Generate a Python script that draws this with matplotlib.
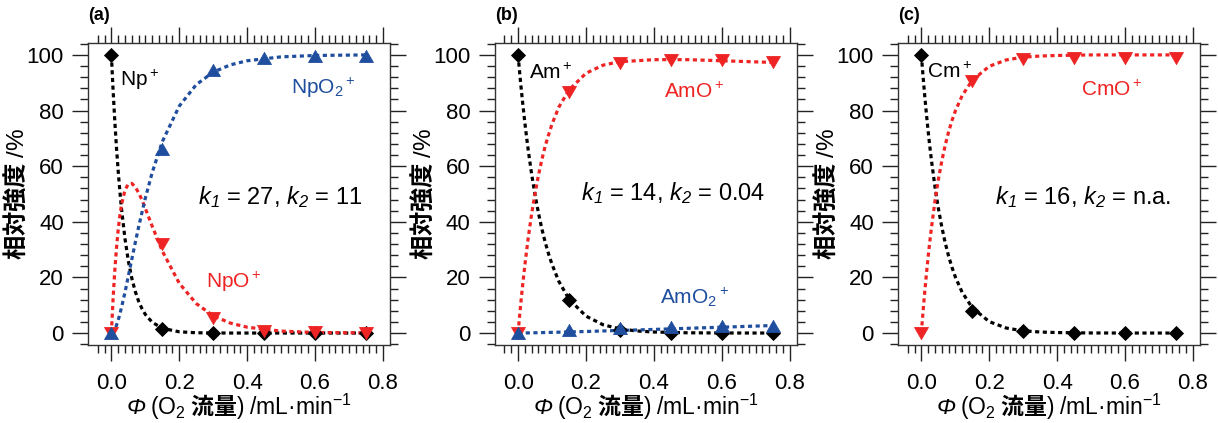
import numpy as np
import matplotlib
matplotlib.use("Agg")
import matplotlib.pyplot as plt
from matplotlib.ticker import FixedLocator, MultipleLocator, FormatStrFormatter

plt.rcParams['font.family'] = ['Liberation Sans', 'Noto Sans CJK JP']
plt.rcParams['mathtext.fontset'] = 'custom'
plt.rcParams['mathtext.rm'] = 'Liberation Sans'
plt.rcParams['mathtext.it'] = 'Liberation Sans:italic'
plt.rcParams['mathtext.cal'] = 'Liberation Sans:italic'
plt.rcParams['mathtext.bf'] = 'Liberation Sans:bold'

BLACK = '#000000'
RED = '#ee2424'
BLUE = '#1f4e9e'

# measured points
flow = [0.0, 0.15, 0.30, 0.45, 0.60, 0.75]

np_ion = [100, 1.5, 0.0, 0.0, 0.0, 0.0]
npo_ion = [0.0, 32.0, 5.5, 0.8, 0.2, 0.1]
npo2_ion = [0.0, 66.0, 94.5, 99.0, 99.5, 99.5]

am_ion = [100, 12.0, 1.0, 0.0, 0.0, 0.0]
amo_ion = [0.0, 86.8, 97.2, 98.0, 98.0, 97.6]
amo2_ion = [0.0, 1.2, 1.8, 2.0, 2.4, 2.6]

cm_ion = [100, 8.0, 0.6, 0.0, 0.0, 0.0]
cmo_ion = [0.0, 90.8, 98.4, 98.8, 98.8, 98.8]

# fitted curves
fit_x = [0.0, 0.005, 0.01, 0.015, 0.02, 0.025, 0.03, 0.04, 0.05, 0.06, 0.07, 0.08,
         0.09, 0.1, 0.12, 0.15, 0.2, 0.25, 0.3, 0.35, 0.4, 0.5, 0.6, 0.75]

fit_np = [100, 87.4, 76.3, 66.7, 58.3, 50.9, 44.5, 34.0, 25.9, 19.8, 15.1, 11.5,
          8.8, 6.7, 3.9, 1.7, 0.45, 0.1, 0.03, 0, 0, 0, 0, 0]
fit_npo = [0, 12.3, 22.4, 30.5, 37.1, 42.3, 46.2, 51.4, 53.6, 53.8, 52.6, 50.5,
           47.9, 44.8, 38.5, 29.5, 17.9, 10.6, 6.2, 3.6, 2.1, 0.7, 0.2, 0.05]
fit_npo2 = [0, 0.3, 1.3, 2.8, 4.6, 6.8, 9.3, 14.6, 20.5, 26.4, 32.3, 38.0,
            43.3, 48.5, 57.6, 68.8, 81.6, 89.3, 93.8, 96.4, 97.9, 99.3, 99.8, 100]

fit_am = [100, 93.2, 86.9, 81.1, 75.6, 70.5, 65.7, 57.1, 49.7, 43.2, 37.5, 32.6,
          28.4, 24.7, 18.6, 12.2, 6.1, 3.0, 1.5, 0.74, 0.37, 0.09, 0.02, 0]
fit_amo = [0, 6.8, 13.1, 18.9, 24.4, 29.4, 34.3, 42.9, 50.2, 56.7, 62.3, 67.3,
           71.3, 75.1, 81.2, 87.4, 93.4, 96.3, 97.6, 97.9, 98.3, 98.3, 97.9, 97.3]
fit_amo2 = [0, 0, 0, 0, 0, 0.05, 0.05, 0.1, 0.1, 0.1, 0.15, 0.2,
            0.2, 0.25, 0.3, 0.4, 0.55, 0.75, 0.95, 1.1, 1.3, 1.7, 2.1, 2.7]

fit_cm = [100, 92.3, 85.2, 78.7, 72.6, 67.0, 61.9, 52.7, 44.9, 38.3, 32.6, 27.8,
          23.7, 20.2, 14.7, 9.1, 4.1, 1.8, 0.8, 0.37, 0.17, 0.03, 0, 0]
fit_cmo = [0, 7.7, 14.8, 21.3, 27.4, 33.0, 38.1, 47.3, 55.1, 61.7, 67.4, 72.2,
           76.3, 79.8, 85.3, 90.9, 95.9, 98.2, 99.2, 99.6, 99.8, 100, 100, 100]

panel_tags = ['(a)', '(b)', '(c)']
k_labels = [r'$\mathcal{k}_{\mathcal{1}}$ = 27, $\mathcal{k}_{\mathcal{2}}$ = 11',
            r'$\mathcal{k}_{\mathcal{1}}$ = 14, $\mathcal{k}_{\mathcal{2}}$ = 0.04',
            r'$\mathcal{k}_{\mathcal{1}}$ = 16, $\mathcal{k}_{\mathcal{2}}$ = n.a.']

# equilateral triangles, centred on their bounding box
TRI_UP = [(0, 0.433), (-0.5, -0.433), (0.5, -0.433), (0, 0.433)]
TRI_DOWN = [(0, -0.433), (-0.5, 0.433), (0.5, 0.433), (0, -0.433)]
DOTS = (0, (1.3, 1.1))


def plot_series(ax, xs, ys, fx, fy, color, marker, ms):
    ax.plot(fx, fy, linestyle=DOTS, color=color, lw=2.3, zorder=2)
    ax.plot(xs, ys, linestyle='none', marker=marker, ms=ms, color=color,
            mec=color, mew=0.6, zorder=3)


def style_axes(ax):
    ax.set_xlim(-0.068, 0.821)
    ax.set_ylim(-4.3, 104.4)
    ax.xaxis.set_major_locator(FixedLocator([0.0, 0.2, 0.4, 0.6, 0.8]))
    ax.xaxis.set_minor_locator(FixedLocator(np.arange(-0.04, 0.801, 0.02)))
    ax.xaxis.set_major_formatter(FormatStrFormatter('%.1f'))
    ax.yaxis.set_major_locator(MultipleLocator(20))
    ax.yaxis.set_minor_locator(MultipleLocator(4))
    ax.tick_params(which='both', direction='out', top=True, right=True,
                   width=1.0, color='#222222')
    ax.tick_params(which='major', length=11.5, labelsize=16)
    ax.tick_params(axis='y', which='major', pad=6)
    ax.tick_params(axis='x', which='major', pad=8.5)
    ax.tick_params(which='minor', length=5.5)
    for s in ax.spines.values():
        s.set_linewidth(1.0)
        s.set_color('#333333')
    ax.set_ylabel(r'相対強度 $\mathrm{/\%}$', fontsize=17.5,
                  fontfamily='Noto Sans CJK JP', fontweight='bold')
    ax.yaxis.set_label_coords(-0.197, 0.5)
    ax.set_xlabel(r'$\mathcal{\Phi}$ $\mathrm{(O_2}$ 流量$\mathrm{)}$ $\mathrm{/mL·min^{-1}}$',
                  fontsize=16.5, fontfamily='Noto Sans CJK JP', fontweight='bold')
    ax.xaxis.set_label_coords(0.5, -0.155)


fig = plt.figure(figsize=(12.18, 4.23), dpi=100)
lefts = [0.0725, 0.4064, 0.7375]
axes = [fig.add_axes([l, 0.1844, 0.2477, 0.7147]) for l in lefts]

ax = axes[0]
plot_series(ax, flow, np_ion, fit_x, fit_np, BLACK, 'D', 7.5)
plot_series(ax, flow, npo_ion, fit_x, fit_npo, RED, TRI_DOWN, 10)
plot_series(ax, flow, npo2_ion, fit_x, fit_npo2, BLUE, TRI_UP, 10)
ax.text(0.024, 91, r'Np$^+$', fontsize=15, color=BLACK, va='center')
ax.text(0.53, 88, r'NpO$_2$$^+$', fontsize=15, color=BLUE, va='center')
ax.text(0.28, 18.4, r'NpO$^+$', fontsize=15, color=RED, va='center')

ax = axes[1]
plot_series(ax, flow, am_ion, fit_x, fit_am, BLACK, 'D', 7.5)
plot_series(ax, flow, amo_ion, fit_x, fit_amo, RED, TRI_DOWN, 10)
plot_series(ax, flow, amo2_ion, fit_x, fit_amo2, BLUE, TRI_UP, 10)
ax.text(0.031, 93.4, r'Am$^+$', fontsize=15, color=BLACK, va='center')
ax.text(0.429, 86.8, r'AmO$^+$', fontsize=15, color=RED, va='center')
ax.text(0.419, 13, r'AmO$_2$$^+$', fontsize=15, color=BLUE, va='center')

ax = axes[2]
plot_series(ax, flow, cm_ion, fit_x, fit_cm, BLACK, 'D', 7.5)
plot_series(ax, flow, cmo_ion, fit_x, fit_cmo, RED, TRI_DOWN, 10)
ax.text(0.0165, 94, r'Cm$^+$', fontsize=15, color=BLACK, va='center')
ax.text(0.471, 87.4, r'CmO$^+$', fontsize=15, color=RED, va='center')

k_pos = [(0.255, 49), (0.186, 50.3), (0.216, 49)]
for ax, tag, kl, (kx, ky) in zip(axes, panel_tags, k_labels, k_pos):
    style_axes(ax)
    ax.text(kx, ky, kl, fontsize=17, va='center')
    ax.text(0.0, 1.09, tag, transform=ax.transAxes, fontsize=13,
            fontweight='bold', va='center', ha='left')

fig.savefig('out.png', dpi=100)
